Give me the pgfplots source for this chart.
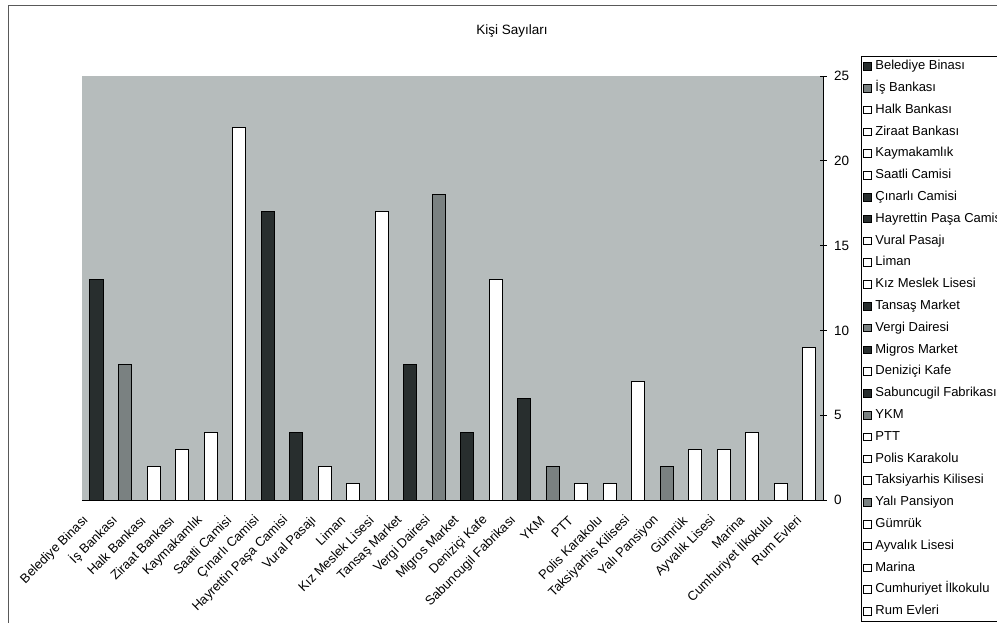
\documentclass[border=0pt]{standalone}
\usepackage{pgfplots}
\pgfplotsset{compat=1.18}
\usepackage{fontspec}
\setmainfont{Liberation Sans}

\definecolor{bgc}{RGB}{182,188,188}
\definecolor{dk}{RGB}{40,46,46}
\definecolor{gr}{RGB}{122,129,129}

\pgfplotsset{
  barsq/.style={
    legend image code/.code={\draw[##1,draw=black,line width=0.5pt] (0pt,-3.8pt) rectangle (7.6pt,3.8pt);}
  },
  dkbar/.style={fill=dk,draw=black,line width=0.5pt,bar shift=0pt,barsq},
  grbar/.style={fill=gr,draw=black,line width=0.5pt,bar shift=0pt,barsq},
  whbar/.style={fill=white,draw=black,line width=0.5pt,bar shift=0pt,barsq},
}

\begin{document}
\begin{tikzpicture}
% outer frame of the chart
\draw[line width=0.6pt,gray!70!black] (8pt,-2pt) -- (8pt,617pt) -- (1000pt,617pt);

\begin{axis}[
    at={(82pt,122pt)}, anchor=south west,
    scale only axis,
    width=741pt, height=424pt,
    ybar,
    bar width=13pt,
    xmin=-0.5, xmax=25.5,
    ymin=0, ymax=25,
    axis background/.style={fill=bgc},
    axis x line*=bottom,
    axis y line*=right,
    axis line style={-,line width=0.7pt},
    xtick={0,...,25},
    xticklabels={Belediye Binası,İş Bankası,Halk Bankası,Ziraat Bankası,Kaymakamlık,Saatli Camisi,Çınarlı Camisi,Hayrettin Paşa Camisi,Vural Pasajı,Liman,Kız Meslek Lisesi,Tansaş Market,Vergi Dairesi,Migros Market,Deniziçi Kafe,Sabuncugil Fabrikası,YKM,PTT,Polis Karakolu,Taksiyarhis Kilisesi,Yalı Pansiyon,Gümrük,Ayvalık Lisesi,Marina,Cumhuriyet İlkokulu,Rum Evleri},
    x tick style={draw=none},
    extra x ticks={-0.5,1.5,...,25.5},
    extra x tick labels={},
    extra x tick style={tick style={draw=black,line width=0.6pt},major tick length=7pt,tick align=center},
    x tick label style={xshift=-9pt,yshift=-14pt,rotate=45,anchor=east,font=\fontsize{13}{15}\selectfont,inner sep=1pt},
    ytick={0,5,...,25},
    y tick style={draw=black,line width=0.6pt},
    major tick length=7pt,
    tick align=center,
    yticklabel pos=right,
    y tick label style={font=\fontsize{13.5}{15}\selectfont,xshift=4pt},
    /pgf/number format/assume math mode=true,
    legend cell align=left,
    legend style={
        at={(1.0513,1.0472)}, anchor=north west,
        draw=black, line width=0.6pt, fill=white,
        font=\fontsize{13}{15}\selectfont,
        inner xsep=2pt, inner ysep=3pt,
        row sep=7.8pt, column sep=3pt,
        nodes={inner sep=1pt,text height=9.5pt,text depth=2.5pt}
    },
]
\addplot[dkbar] coordinates {(0,13)};
\addplot[grbar] coordinates {(1,8)};
\addplot[whbar] coordinates {(2,2)};
\addplot[whbar] coordinates {(3,3)};
\addplot[whbar] coordinates {(4,4)};
\addplot[whbar] coordinates {(5,22)};
\addplot[dkbar] coordinates {(6,17)};
\addplot[dkbar] coordinates {(7,4)};
\addplot[whbar] coordinates {(8,2)};
\addplot[whbar] coordinates {(9,1)};
\addplot[whbar] coordinates {(10,17)};
\addplot[dkbar] coordinates {(11,8)};
\addplot[grbar] coordinates {(12,18)};
\addplot[dkbar] coordinates {(13,4)};
\addplot[whbar] coordinates {(14,13)};
\addplot[dkbar] coordinates {(15,6)};
\addplot[grbar] coordinates {(16,2)};
\addplot[whbar] coordinates {(17,1)};
\addplot[whbar] coordinates {(18,1)};
\addplot[whbar] coordinates {(19,7)};
\addplot[grbar] coordinates {(20,2)};
\addplot[whbar] coordinates {(21,3)};
\addplot[whbar] coordinates {(22,3)};
\addplot[whbar] coordinates {(23,4)};
\addplot[whbar] coordinates {(24,1)};
\addplot[whbar] coordinates {(25,9)};
\legend{Belediye Binası,İş Bankası,Halk Bankası,Ziraat Bankası,Kaymakamlık,Saatli Camisi,Çınarlı Camisi,Hayrettin Paşa Camisi,Vural Pasajı,Liman,Kız Meslek Lisesi,Tansaş Market,Vergi Dairesi,Migros Market,Deniziçi Kafe,Sabuncugil Fabrikası,YKM,PTT,Polis Karakolu,Taksiyarhis Kilisesi,Yalı Pansiyon,Gümrük,Ayvalık Lisesi,Marina,Cumhuriyet İlkokulu,Rum Evleri}
\end{axis}

\node[font=\fontsize{13.5}{15}\selectfont] at (512pt,591pt) {Kişi Sayıları};
\pgfresetboundingbox
\path[use as bounding box] (0pt,0pt) rectangle (997pt,622pt);
\end{tikzpicture}
\end{document}
